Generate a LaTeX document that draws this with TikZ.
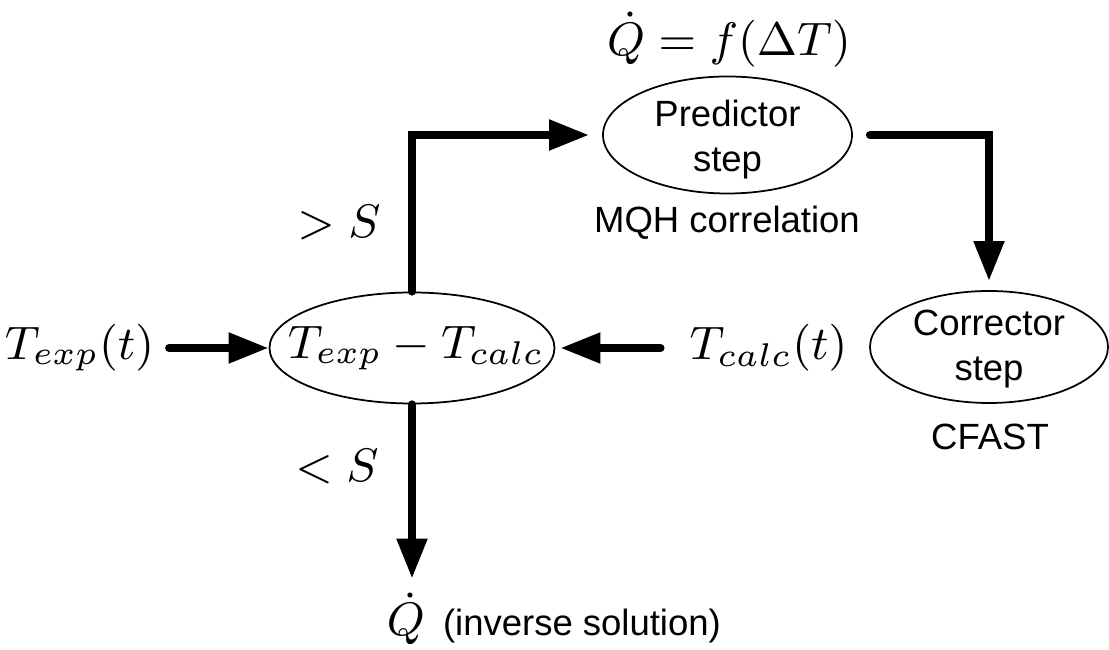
\RequirePackage{fix-cm}
\documentclass[tikz,border=0pt]{standalone}
\usepackage{fontspec}
\newfontfamily\arialf{Liberation Sans}
\usetikzlibrary{arrows.meta,shapes.geometric}
\begin{document}
\begin{tikzpicture}[x=0.2pt,y=-0.2pt,
  ell/.style={draw, ellipse, line width=0.35pt, inner sep=0pt},
  flow/.style={line width=1.6pt, line cap=round, -{Triangle[length=8pt,width=5.8pt]}},
  sf/.style={font=\fontsize{7.3}{9}\arialf, align=center, inner sep=0pt},
  mth/.style={inner sep=0pt, font=\fontsize{9.4}{11.3}\selectfont}]
\useasboundingbox[fill=white] (0,0) rectangle (1109,650);
% ellipses
\node[ell, minimum width=57pt, minimum height=22.2pt] (main) at (412,348) {};
\node[mth] (mainlbl) at (416,348) {$T_{exp}-T_{calc}$};
\node[ell, minimum width=49.8pt, minimum height=23.4pt] (pred) at (727.5,135) {};
\node[sf] (predlbl) at (727.5,140) {Predictor\\step};
\node[ell, minimum width=47.6pt, minimum height=22.4pt] (corr) at (989,347) {};
\node[sf] (corrlbl) at (989,349) {Corrector\\step};
% texts
\node[mth, inner xsep=2.8pt] (texp) at (79.5,348) {$T_{exp}(t)$};
\node[mth, inner xsep=5.6pt] (tcalc) at (768.5,348) {$T_{calc}(t)$};
\node[mth] (formula) at (729,40) {$\dot{Q}=f(\Delta T)$};
\node[mth] (gt) at (339,223) {$>S$};
\node[mth] (lt) at (337,467) {$<S$};
\node[sf] (mqh) at (727,223) {MQH correlation};
\node[sf] (cfast) at (990,437) {CFAST};
\node[mth, anchor=base] (qdot) at (406,636) {$\dot{Q}$};
\node[sf, anchor=base west] (inv) at (442,636) {(inverse solution)};
% connectors
\draw[flow] (texp.east) -- (main.west);
\draw[flow, shorten >=1pt] (tcalc.west) -- (main.east);
\draw[flow, shorten >=2.6pt] (main.north) |- (pred.west);
\draw[flow, shorten <=3.4pt, shorten >=1.8pt] (pred.east) -| (corr.north);
\draw[flow, shorten >=2.6pt] (main.south) -- (main.south |- qdot.north);
\end{tikzpicture}
\end{document}
